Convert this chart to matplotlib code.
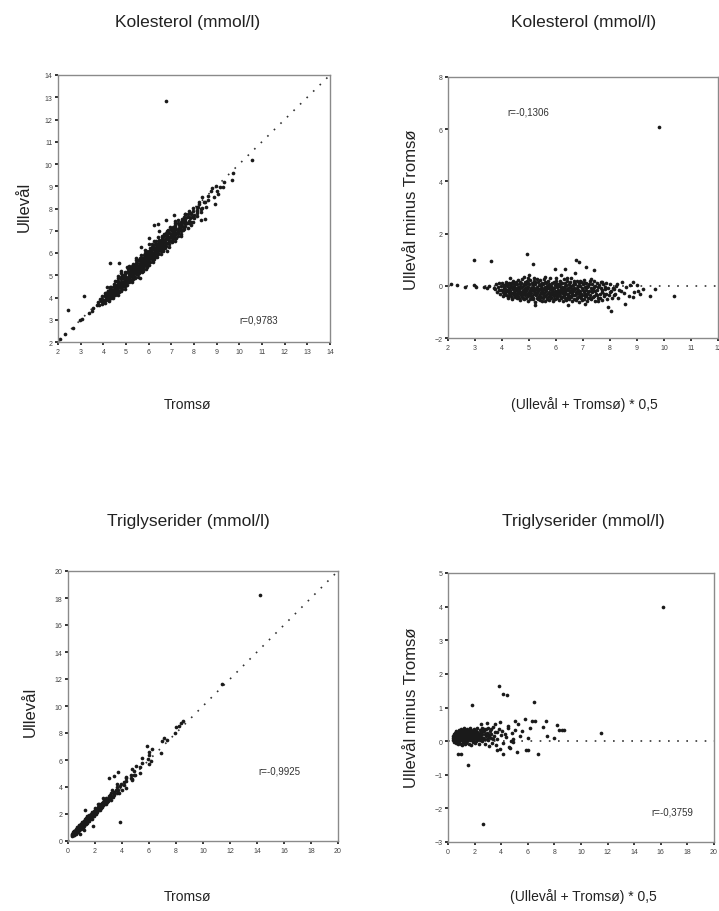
import matplotlib
matplotlib.use('Agg')
import matplotlib.pyplot as plt
import numpy as np

plt.rcParams['font.family'] = ['Liberation Sans', 'DejaVu Sans']

# ---------------- data (mean, difference) ----------------
# Kolesterol: (mean of Ullevål & Tromsø, Ullevål minus Tromsø)
chol_points = [
    (2.1, 0.06), (2.34, 0.04), (2.64, -0.06), (2.96, 1.0), (2.98, 0.03), (3.04, -0.04),
    (3.35, -0.06), (3.53, 0.0), (3.6, 0.95), (3.45, -0.1), (3.7, -0.08),
    (4.93, 1.23), (5.13, 0.84), (5.96, 0.64), (6.33, 0.65), (6.74, 1.0), (6.85, 0.9),
    (7.12, 0.73), (7.41, 0.61), (6.72, 0.5),
    (5.24, -0.75), (5.47, -0.6), (6.45, -0.74), (7.09, -0.68), (7.57, -0.6), (7.91, -0.82),
    (8.02, -0.97), (8.55, -0.71),
    (8.26, 0.06), (8.44, 0.13), (8.75, 0.03), (8.87, 0.13), (9.0, 0.03), (9.12, -0.32),
    (9.24, -0.13), (9.48, -0.39), (9.67, -0.13), (10.38, -0.39), (8.69, -0.39), (8.87, -0.42),
    (8.5, -0.26), (8.2, -0.32), (8.13, -0.13), (8.01, -0.23), (8.35, -0.15), (8.6, -0.05),
    (8.9, -0.25), (9.05, -0.2),
    (9.8, 6.1),
    (4.3, 0.3), (4.8, 0.35), (5.2, 0.3), (5.6, 0.32), (6.0, 0.28), (6.4, 0.3), (6.9, 0.2),
    (7.3, 0.25), (7.7, 0.15), (5.0, 0.4), (6.2, 0.4),
    (3.74, -0.12), (3.78, 0.05), (3.82, -0.25), (3.85, -0.05), (3.88, -0.18), (3.9, 0.1),
    (3.92, -0.3), (3.95, -0.02), (3.97, -0.15), (4.0, 0.12), (4.02, -0.22), (4.04, -0.38),
    (4.06, -0.08), (4.08, 0.04), (4.1, -0.28),
    (4.11, -0.12), (4.13, 0.15), (4.15, -0.35), (4.17, -0.2), (4.19, -0.02), (4.21, -0.45),
    (4.23, 0.08), (4.25, -0.27), (4.27, -0.1), (4.28, -0.33), (4.29, 0.02),
    (4.31, -0.18), (4.32, -0.4), (4.34, 0.1), (4.35, -0.06), (4.37, -0.28), (4.38, -0.5),
    (4.4, 0.18), (4.41, -0.14), (4.43, -0.35), (4.45, 0.0), (4.46, -0.22), (4.48, -0.44), (4.49, 0.07),
    (4.5, -0.3), (4.52, -0.1), (4.53, 0.14), (4.55, -0.48), (4.56, -0.2), (4.58, -0.03),
    (4.6, -0.38), (4.61, 0.22), (4.63, -0.15), (4.64, -0.26), (4.66, 0.05), (4.67, -0.55),
    (4.68, -0.08), (4.69, -0.33),
    (4.7, 0.12), (4.71, -0.22), (4.73, -0.42), (4.74, -0.05), (4.75, 0.25), (4.77, -0.3),
    (4.78, -0.15), (4.8, 0.02), (4.81, -0.5), (4.83, -0.25), (4.84, 0.15), (4.86, -0.1),
    (4.87, -0.37), (4.88, 0.06), (4.89, -0.2),
    (4.9, -0.45), (4.91, 0.18), (4.93, -0.12), (4.94, -0.3), (4.95, 0.3), (4.96, -0.04),
    (4.98, -0.58), (4.99, -0.22), (5.01, 0.08), (5.02, -0.35), (5.04, -0.16), (5.05, 0.22),
    (5.06, -0.48), (5.08, -0.07), (5.09, -0.27),
    (5.1, 0.12), (5.11, -0.4), (5.13, -0.18), (5.14, 0.02), (5.15, -0.52), (5.17, -0.3),
    (5.18, 0.2), (5.19, -0.1), (5.21, -0.62), (5.22, -0.24), (5.24, 0.07), (5.25, -0.36),
    (5.26, -0.14), (5.28, 0.26), (5.29, -0.45),
    (5.3, -0.05), (5.31, -0.28), (5.33, 0.15), (5.34, -0.5), (5.35, -0.2), (5.37, 0.03),
    (5.38, -0.38), (5.39, -0.12), (5.41, 0.22), (5.42, -0.56), (5.44, -0.25), (5.45, -0.02),
    (5.46, -0.43), (5.48, 0.1), (5.49, -0.17),
    (5.5, -0.33), (5.51, 0.05), (5.53, -0.48), (5.54, -0.14), (5.55, 0.25), (5.57, -0.27),
    (5.58, -0.6), (5.59, -0.05), (5.61, -0.38), (5.62, 0.12), (5.64, -0.2), (5.65, -0.52),
    (5.66, 0.0), (5.68, -0.3), (5.69, -0.1),
    (5.7, 0.18), (5.71, -0.42), (5.73, -0.22), (5.74, 0.05), (5.75, -0.55), (5.77, -0.12),
    (5.78, -0.34), (5.79, 0.28), (5.81, -0.04), (5.82, -0.47), (5.84, -0.18), (5.85, 0.1),
    (5.86, -0.3), (5.88, -0.58), (5.89, -0.08),
    (5.9, -0.25), (5.91, 0.15), (5.93, -0.4), (5.94, -0.1), (5.95, 0.02), (5.97, -0.52),
    (5.98, -0.2), (6.0, 0.2), (6.01, -0.33), (6.03, -0.06), (6.04, -0.45), (6.06, 0.08),
    (6.07, -0.16), (6.09, -0.28),
    (6.1, -0.55), (6.11, 0.0), (6.13, -0.22), (6.14, 0.18), (6.16, -0.38), (6.17, -0.1),
    (6.19, -0.48), (6.2, 0.1), (6.22, -0.26), (6.23, -0.04), (6.25, -0.6), (6.26, -0.15),
    (6.28, 0.25), (6.29, -0.35),
    (6.3, -0.08), (6.32, -0.45), (6.33, 0.12), (6.35, -0.22), (6.36, -0.56), (6.38, 0.03),
    (6.39, -0.3), (6.41, -0.12), (6.42, 0.2), (6.44, -0.4), (6.45, -0.18), (6.47, 0.06), (6.49, -0.5),
    (6.5, -0.25), (6.51, 0.15), (6.53, -0.05), (6.54, -0.42), (6.56, -0.15), (6.57, 0.28),
    (6.59, -0.6), (6.6, -0.32), (6.62, 0.02), (6.63, -0.2), (6.65, -0.5), (6.66, 0.1), (6.68, -0.1),
    (6.7, -0.36), (6.72, 0.05), (6.73, -0.22), (6.75, -0.55), (6.76, 0.2), (6.78, -0.08),
    (6.8, -0.44), (6.82, -0.16), (6.84, 0.12), (6.86, -0.3), (6.87, -0.62), (6.89, 0.0),
    (6.9, -0.2), (6.92, -0.45), (6.94, 0.15), (6.96, -0.1), (6.98, -0.35), (7.0, 0.05),
    (7.02, -0.52), (7.04, -0.25), (7.05, 0.22), (7.07, -0.05), (7.09, -0.4),
    (7.1, -0.15), (7.12, 0.1), (7.14, -0.58), (7.16, -0.3), (7.18, 0.0), (7.2, -0.45),
    (7.23, -0.2), (7.25, 0.18), (7.27, -0.35), (7.29, -0.08),
    (7.31, -0.5), (7.33, 0.05), (7.35, -0.25), (7.38, -0.12), (7.4, 0.2), (7.42, -0.4),
    (7.44, -0.6), (7.46, -0.02), (7.48, -0.3),
    (7.5, 0.1), (7.53, -0.18), (7.56, -0.45), (7.59, 0.02), (7.62, -0.32), (7.65, -0.1),
    (7.67, 0.15), (7.69, -0.55),
    (7.72, -0.25), (7.75, 0.05), (7.78, -0.4), (7.81, -0.12), (7.84, 0.1), (7.87, -0.3), (7.9, -0.5),
    (7.93, -0.08), (7.96, -0.35), (8.0, 0.08), (8.05, -0.2), (8.08, -0.45),
    # second pass through the dense core
    (4.03, -0.18), (4.07, 0.0), (4.09, -0.32), (4.12, -0.25), (4.16, 0.05), (4.2, -0.15),
    (4.24, -0.38), (4.26, 0.1), (4.3, -0.24), (4.33, -0.02), (4.36, -0.45), (4.39, -0.1),
    (4.42, 0.12), (4.44, -0.28), (4.47, -0.16), (4.51, -0.4), (4.54, 0.05), (4.57, -0.12),
    (4.59, -0.28), (4.62, -0.45), (4.65, -0.05), (4.68, 0.15), (4.72, -0.35), (4.76, -0.2),
    (4.79, -0.45), (4.82, 0.08), (4.85, -0.32), (4.88, -0.12), (4.92, -0.05), (4.95, -0.4),
    (4.97, 0.12), (5.0, -0.28), (5.03, -0.5), (5.07, -0.18), (5.12, -0.08), (5.16, -0.45),
    (5.2, -0.2), (5.23, 0.15), (5.27, -0.32), (5.32, -0.12), (5.36, -0.42), (5.4, -0.3),
    (5.43, 0.05), (5.47, -0.08), (5.52, -0.22), (5.56, -0.4), (5.6, 0.15), (5.63, -0.12),
    (5.67, -0.45), (5.72, -0.05), (5.76, -0.28), (5.8, -0.42), (5.83, 0.0), (5.87, -0.22),
    (5.92, -0.5), (5.96, -0.3), (5.99, 0.08), (6.02, -0.2), (6.05, -0.38), (6.08, 0.0),
    (6.12, -0.3), (6.15, 0.05), (6.18, -0.18), (6.21, -0.42), (6.24, 0.12), (6.27, -0.25),
    (6.31, -0.35), (6.34, -0.02), (6.37, -0.15), (6.4, -0.48), (6.43, -0.08), (6.46, -0.3),
    (6.52, -0.4), (6.55, -0.02), (6.58, -0.25), (6.61, -0.12), (6.64, -0.35), (6.67, 0.2),
    (6.71, -0.12), (6.74, -0.3), (6.77, -0.45), (6.81, -0.02), (6.85, -0.22), (6.88, -0.4),
    (6.91, -0.3), (6.95, -0.55), (6.99, -0.15), (7.03, 0.12), (7.06, -0.32), (7.11, -0.38),
    (7.15, -0.05), (7.19, -0.25), (7.22, 0.08), (7.26, -0.48), (7.32, -0.18), (7.36, -0.42),
    (7.41, -0.05), (7.45, -0.2), (7.52, -0.35), (7.57, -0.05), (7.63, -0.48), (7.7, -0.15),
    (7.76, -0.3), (7.83, -0.05), (8.1, -0.1), (8.15, -0.35), (8.22, 0.0), (8.3, -0.45), (8.4, -0.2),
]

# Triglyserider: (mean of Ullevål & Tromsø, Ullevål minus Tromsø)
trig_points = [
    (0.35, 0.08), (0.38, 0.15), (0.4, 0.02), (0.42, 0.2), (0.45, 0.1), (0.47, -0.02),
    (0.5, 0.12), (0.52, 0.25), (0.54, 0.05), (0.56, 0.18), (0.58, -0.05), (0.6, 0.1),
    (0.62, 0.3), (0.64, 0.0), (0.66, 0.15), (0.68, 0.22),
    (0.7, 0.06), (0.72, -0.1), (0.74, 0.18), (0.76, 0.28), (0.78, 0.1), (0.8, -0.02),
    (0.82, 0.22), (0.84, 0.12), (0.86, 0.32), (0.88, 0.04), (0.89, 0.16),
    (0.9, 0.26), (0.92, 0.08), (0.94, -0.08), (0.96, 0.18), (0.98, 0.35), (1.0, 0.12),
    (1.02, 0.02), (1.04, 0.24), (1.06, -0.12), (1.08, 0.15), (1.09, 0.3),
    (1.1, 0.06), (1.12, 0.2), (1.14, -0.04), (1.16, 0.28), (1.18, 0.1), (1.2, 0.38),
    (1.22, 0.0), (1.24, 0.16), (1.26, 0.25), (1.28, -0.1), (1.29, 0.12),
    (1.3, 0.22), (1.32, 0.05), (1.34, 0.32), (1.36, 0.14), (1.38, -0.06), (1.4, 0.26),
    (1.42, 0.1), (1.44, 0.36), (1.46, 0.0), (1.48, 0.18),
    (1.5, 0.08), (1.52, 0.3), (1.55, -0.08), (1.57, 0.2), (1.6, 0.12), (1.62, 0.4),
    (1.65, 0.02), (1.67, 0.24), (1.69, 0.14),
    (1.71, -0.12), (1.73, 0.32), (1.76, 0.1), (1.78, 0.2), (1.81, 0.04), (1.84, 0.28),
    (1.86, 0.15), (1.89, -0.03),
    (1.91, 0.22), (1.94, 0.08), (1.97, 0.35), (2.0, 0.14), (2.03, -0.05), (2.06, 0.26), (2.09, 0.1),
    (2.12, 0.3), (2.15, 0.02), (2.18, 0.18), (2.21, 0.4), (2.25, 0.08), (2.28, 0.22),
    (2.31, -0.1), (2.34, 0.15), (2.37, 0.32), (2.41, 0.05), (2.44, 0.25), (2.48, 0.12),
    (2.52, 0.38), (2.55, 0.0), (2.59, 0.2), (2.63, 0.1), (2.67, 0.3),
    (2.71, 0.05), (2.75, 0.22), (2.8, -0.08), (2.84, 0.35), (2.88, 0.14),
    (2.93, 0.25), (2.97, 0.02), (3.02, 0.4), (3.06, 0.12), (3.1, -0.15),
    (3.15, 0.3), (3.2, 0.08), (3.26, 0.2), (3.32, -0.05), (3.38, 0.42), (3.45, 0.15),
    (3.52, 0.28), (3.58, -0.12),
    (3.66, 0.26), (3.72, 0.05), (3.8, 0.35), (3.88, -0.22), (3.95, 0.18), (4.05, 0.3),
    (4.15, -0.05), (4.25, 0.22), (4.35, 0.12), (4.5, 0.4), (4.62, -0.18), (4.78, 0.25),
    (4.9, 0.05), (5.05, 0.32),
    (3.86, 1.63), (4.11, 1.40), (4.4, 1.37), (1.78, 1.08), (6.44, 1.17), (1.48, -0.70),
    (0.73, -0.39), (0.98, -0.39), (5.79, 0.67), (3.91, 0.56), (5.04, 0.59), (4.49, 0.46),
    (6.29, 0.59), (6.54, 0.59), (7.37, 0.59), (7.17, 0.43), (7.42, 0.16), (8.22, 0.49),
    (8.37, 0.34), (8.55, 0.34), (8.72, 0.34), (7.97, 0.08), (11.5, 0.23), (6.74, -0.37),
    (5.21, -0.31), (5.86, -0.26), (6.04, -0.26), (4.11, -0.37), (3.66, -0.26), (4.91, -0.04),
    (4.66, -0.19), (2.6, -2.45), (16.2, 4.0),
    (5.4, 0.15), (5.6, 0.3), (6.0, 0.1), (6.2, 0.4), (5.3, 0.5), (4.7, 0.0), (3.5, 0.5),
    (2.9, 0.55), (2.5, 0.5),
    # second pass through the dense core
    (0.44, 0.05), (0.49, 0.18), (0.53, 0.08), (0.57, 0.28), (0.61, 0.0), (0.65, 0.2),
    (0.69, 0.12), (0.71, 0.25), (0.75, 0.04), (0.79, 0.2), (0.83, 0.0), (0.87, 0.14),
    (0.91, 0.1), (0.95, 0.28), (0.99, 0.06), (1.03, 0.18), (1.07, 0.05), (1.11, 0.32),
    (1.15, 0.14), (1.19, 0.22), (1.23, 0.05), (1.27, 0.3), (1.31, 0.12), (1.35, 0.24),
    (1.39, 0.08), (1.43, 0.18), (1.47, 0.3), (1.51, 0.16), (1.56, 0.25), (1.61, 0.05),
    (1.66, 0.32), (1.7, 0.08), (1.75, 0.22), (1.8, 0.12), (1.85, 0.02), (1.9, 0.3),
    (1.96, 0.16), (2.02, 0.25), (2.08, 0.0), (2.14, 0.15), (2.2, 0.28), (2.27, 0.12),
    (2.35, 0.2), (2.43, 0.02), (2.5, 0.22), (2.58, 0.3), (2.66, 0.08), (2.74, 0.35),
    (2.82, 0.18), (2.9, 0.05), (3.0, 0.22), (3.12, 0.15), (3.25, 0.35), (3.4, 0.05),
]

chol_r = ["r=0,9783", "r=-0,1306"]
trig_r = ["r=-0,9925", "r=-0,3759"]

chol_title = "Kolesterol (mmol/l)"
trig_title = "Triglyserider (mmol/l)"
xlabel_left = "Tromsø"
xlabel_right = "(Ullevål + Tromsø) * 0,5"
ylabel_left = "Ullevål"
ylabel_right = "Ullevål minus Tromsø"

# ---------------- derived values ----------------
chol_mean = np.array([p[0] for p in chol_points])
chol_diff = np.array([p[1] for p in chol_points])
chol_tromso = chol_mean - chol_diff / 2
chol_ulleval = chol_mean + chol_diff / 2

trig_mean = np.array([p[0] for p in trig_points])
trig_diff = np.array([p[1] for p in trig_points])
trig_tromso = trig_mean - trig_diff / 2
trig_ulleval = trig_mean + trig_diff / 2

W, H = 719, 912
fig = plt.figure(figsize=(W / 100, H / 100), dpi=100)


def box(l, t, r, b):
    return [l / W, 1 - b / H, (r - l) / W, (b - t) / H]


PT = '#1a1a1a'
MS = 7
SPINE = '#8a8a8a'
DOT = dict(color='#333333', linewidth=1.2, linestyle=(0, (1, 4.5)), zorder=1)


def style(ax):
    for s in ax.spines.values():
        s.set_color(SPINE)
        s.set_linewidth(1.0)
    ax.tick_params(direction='out', length=2.5, width=1.4, color='#333333',
                   labelsize=5, labelcolor='#444444', pad=1.5)


# Top-left
ax1 = fig.add_axes(box(58, 76, 330, 343))
ax1.plot([2, 14], [2, 14], **DOT)
ax1.scatter(chol_tromso, chol_ulleval, s=MS, c=PT, linewidths=0, zorder=2)
ax1.set_xlim(2, 14)
ax1.set_ylim(2, 14)
ax1.set_xticks(range(2, 15))
ax1.set_yticks(range(2, 15))
ax1.text(9.98, 3.03, chol_r[0], fontsize=7, ha='left', va='center', color='#333333')
style(ax1)

# Top-right
ax2 = fig.add_axes(box(448, 78, 718, 339))
ax2.axhline(0, **DOT)
ax2.scatter(chol_mean, chol_diff, s=MS, c=PT, linewidths=0, zorder=2)
ax2.set_xlim(2, 12)
ax2.set_ylim(-2, 8)
ax2.set_xticks(range(2, 13))
ax2.set_yticks(range(-2, 9, 2))
ax2.text(4.19, 6.66, chol_r[1], fontsize=7, ha='left', va='center', color='#333333')
style(ax2)

# Bottom-left
ax3 = fig.add_axes(box(68, 572, 338, 842))
ax3.plot([0, 20], [0, 20], **DOT)
ax3.scatter(trig_tromso, trig_ulleval, s=MS, c=PT, linewidths=0, zorder=2)
ax3.set_xlim(0, 20)
ax3.set_ylim(0, 20)
ax3.set_xticks(range(0, 21, 2))
ax3.set_yticks(range(0, 21, 2))
ax3.text(14.07, 5.19, trig_r[0], fontsize=7, ha='left', va='center', color='#333333')
style(ax3)

# Bottom-right
ax4 = fig.add_axes(box(448, 574, 714, 843))
ax4.axhline(0, **DOT)
ax4.scatter(trig_mean, trig_diff, s=MS, c=PT, linewidths=0, zorder=2)
ax4.set_xlim(0, 20)
ax4.set_ylim(-3, 5)
ax4.set_xticks(range(0, 21, 2))
ax4.set_yticks(range(-3, 6))
ax4.text(15.26, -2.08, trig_r[1], fontsize=7, ha='left', va='center', color='#333333')
style(ax4)

TXT = '#222222'
fig.text(188 / W, 1 - 22 / H, chol_title, fontsize=12.5, ha='center', va='center', color=TXT)
fig.text(584 / W, 1 - 22 / H, chol_title, fontsize=12.5, ha='center', va='center', color=TXT)
fig.text(188 / W, 1 - 522 / H, trig_title, fontsize=12.5, ha='center', va='center', color=TXT)
fig.text(583 / W, 1 - 522 / H, trig_title, fontsize=12.5, ha='center', va='center', color=TXT)

fig.text(188 / W, 1 - 405 / H, xlabel_left, fontsize=10, ha='center', va='center', color=TXT)
fig.text(584 / W, 1 - 405 / H, xlabel_right, fontsize=10, ha='center', va='center', color=TXT)
fig.text(188 / W, 1 - 897 / H, xlabel_left, fontsize=10, ha='center', va='center', color=TXT)
fig.text(583 / W, 1 - 897 / H, xlabel_right, fontsize=10, ha='center', va='center', color=TXT)

fig.text(24 / W, 1 - 207 / H, ylabel_left, fontsize=12, ha='center', va='center', rotation=90, color=TXT)
fig.text(411 / W, 1 - 210 / H, ylabel_right, fontsize=12, ha='center', va='center', rotation=90, color=TXT)
fig.text(30 / W, 1 - 712 / H, ylabel_left, fontsize=12, ha='center', va='center', rotation=90, color=TXT)
fig.text(411 / W, 1 - 708 / H, ylabel_right, fontsize=12, ha='center', va='center', rotation=90, color=TXT)

fig.savefig('out.png', dpi=100, facecolor='white')
